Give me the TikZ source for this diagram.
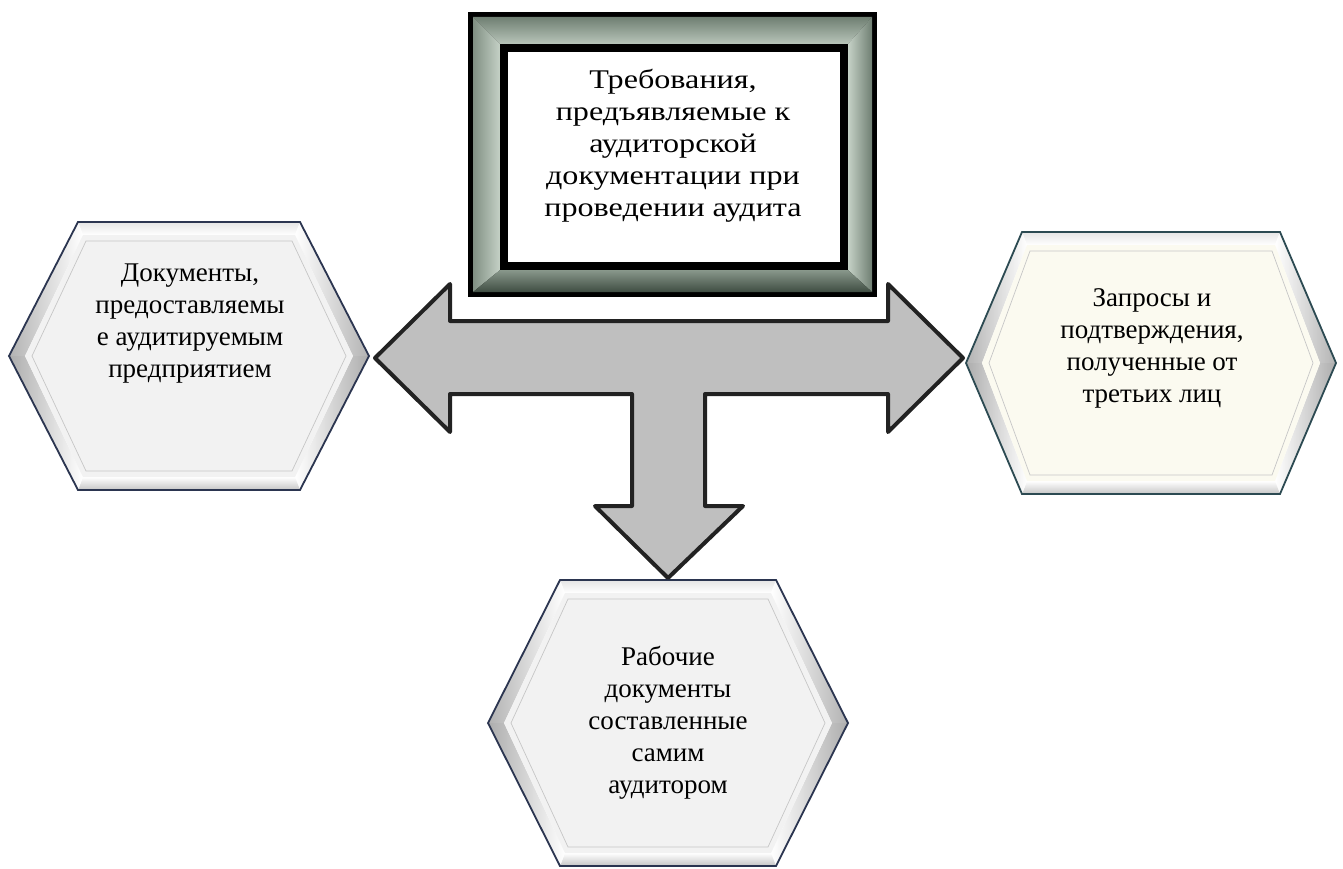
\documentclass[tikz,border=0pt]{standalone}
\usepackage{fontspec}
\usepackage{graphicx}
\setmainfont{Liberation Serif}
\definecolor{arrowfill}{HTML}{BFBFBF}
\definecolor{arrowline}{HTML}{222222}
\definecolor{navy}{HTML}{2B3550}
\definecolor{tealedge}{HTML}{2C4A52}
\definecolor{faceA}{HTML}{F2F2F2}
\definecolor{faceB}{HTML}{FBFAF0}
\definecolor{frmDark}{HTML}{3F4D42}
\definecolor{frmMid}{HTML}{6F7F72}
\definecolor{frmLight}{HTML}{C5D1C6}
\newcommand\txtlines[1]{{\fontsize{27}{32}\selectfont\setlength{\baselineskip}{32pt}\begin{tabular}{@{}c@{}}#1\end{tabular}}}
\tikzset{
  txt/.style={inner sep=0pt},
  bigarrow/.style={fill=arrowfill,draw=arrowline,line width=4pt,line join=round}
}
% #1 cx, #2 cy, #3 half-width, #4 half-height, #5 top half-edge, #6 face colour, #7 outline colour
\newcommand\bevhex[7]{%
  \pgfmathsetmacro\hw{#3-16}\pgfmathsetmacro\hh{#4-13}\pgfmathsetmacro\ha{#5-5}%
  \pgfmathsetmacro\rw{#3-23}\pgfmathsetmacro\rh{#4-19}\pgfmathsetmacro\ra{#5-8}%
  \coordinate (p1) at ({#1-#5},{#2-#4});
  \coordinate (p2) at ({#1+#5},{#2-#4});
  \coordinate (p3) at ({#1+#3},{#2});
  \coordinate (p4) at ({#1+#5},{#2+#4});
  \coordinate (p5) at ({#1-#5},{#2+#4});
  \coordinate (p6) at ({#1-#3},{#2});
  \coordinate (q1) at ({#1-\ha},{#2-\hh});
  \coordinate (q2) at ({#1+\ha},{#2-\hh});
  \coordinate (q3) at ({#1+\hw},{#2});
  \coordinate (q4) at ({#1+\ha},{#2+\hh});
  \coordinate (q5) at ({#1-\ha},{#2+\hh});
  \coordinate (q6) at ({#1-\hw},{#2});
  \shade[top color=gray!20,bottom color=white] (p1)--(p2)--(q2)--(q1)--cycle;
  \shade[left color=white,right color=gray!60] (p2)--(p3)--(q3)--(q2)--cycle;
  \shade[left color=white,right color=gray!65] (p3)--(p4)--(q4)--(q3)--cycle;
  \shade[top color=white,bottom color=gray!45] (p4)--(p5)--(q5)--(q4)--cycle;
  \shade[left color=gray!65,right color=white] (p5)--(p6)--(q6)--(q5)--cycle;
  \shade[left color=gray!60,right color=white] (p6)--(p1)--(q1)--(q6)--cycle;
  \fill[#6] (q1)--(q2)--(q3)--(q4)--(q5)--(q6)--cycle;
  \draw[gray!45,line width=0.7pt] ({#1-\ra},{#2-\rh})--({#1+\ra},{#2-\rh})--({#1+\rw},{#2})--({#1+\ra},{#2+\rh})--({#1-\ra},{#2+\rh})--({#1-\rw},{#2})--cycle;
  \draw[#7,line width=1.8pt,line join=miter] (p1)--(p2)--(p3)--(p4)--(p5)--(p6)--cycle;
}
\begin{document}
\begin{tikzpicture}[x=1pt,y=-1pt]
\useasboundingbox (0,0) rectangle (1343,869);
\fill[white] (0,0) rectangle (1343,869);

% ---- top framed box ----
\fill[black] (468,12) rectangle (877,297);
\shade[top color=frmMid,bottom color=frmLight!85!frmMid] (473,17)--(872,17)--(848,44)--(500,44)--cycle;
\shade[left color=frmMid!80!frmLight,right color=frmLight] (473,17)--(500,44)--(500,270)--(473,292)--cycle;
\shade[left color=frmLight,right color=frmMid] (872,17)--(848,44)--(848,270)--(872,292)--cycle;
\shade[top color=frmMid!70!frmLight,bottom color=frmDark] (473,292)--(500,270)--(848,270)--(872,292)--cycle;
\fill[black] (500,44) rectangle (848,270);
\fill[white] (508,52) rectangle (840,262);
\node[txt] (top) at (673,146) {\scalebox{1.19}[1]{\txtlines{Требования,\\предъявляемые к\\аудиторской\\документации при\\проведении аудита}}};

% ---- hexagons ----
\bevhex{189}{356}{180}{134}{111}{faceA}{navy}
\node[txt] (left) at (190,323) {\txtlines{Документы,\\предоставляемы\\е аудитируемым\\предприятием}};

\bevhex{1151}{363}{185}{131}{129}{faceB}{tealedge}
\node[txt] (right) at (1152,348) {\txtlines{Запросы и\\подтверждения,\\полученные от\\третьих лиц}};

\bevhex{668}{723}{180}{143}{108}{faceA}{navy}
\node[txt] (bottom) at (668,723) {\txtlines{Рабочие\\документы\\составленные\\самим\\аудитором}};

% ---- three-way arrow ----
\draw[bigarrow] (375,358)--(450,284)--(450,321)--(888,321)--(888,284)--(963,358)
  --(888,432)--(888,394)--(705,394)--(705,506)--(743,506)--(668,578)
  --(595,506)--(632,506)--(632,394)--(450,394)--(450,432)--cycle;
\end{tikzpicture}
\end{document}
